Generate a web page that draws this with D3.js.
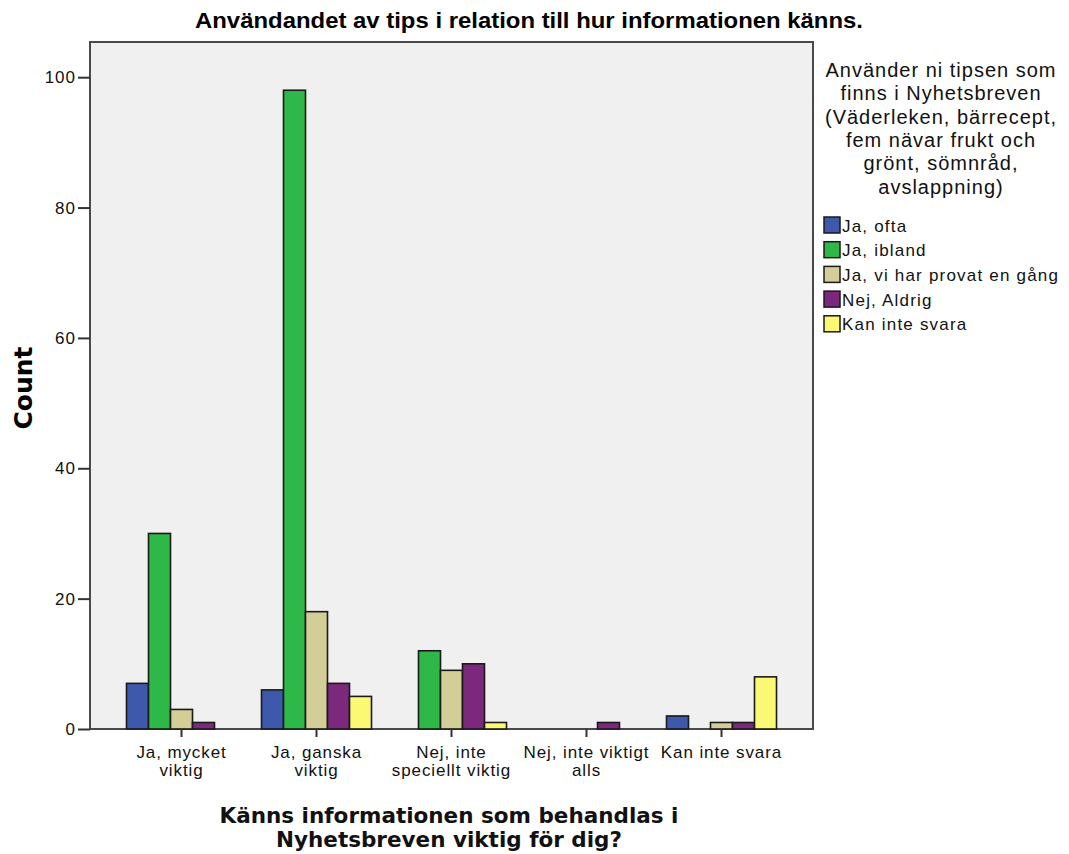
<!DOCTYPE html>
<html>
<head>
<meta charset="utf-8">
<script src="https://cdn.jsdelivr.net/npm/d3@7"></script>
<style>
  body { margin: 0; background: #fff; }
  svg { display: block; font-family: "Liberation Sans", Arial, sans-serif; }
</style>
</head>
<body>
<div id="chart_div"></div>
<script>
// categories on the x axis (each entry = lines of the label)
var categories = ["Ja, mycket viktig", "Ja, ganska viktig", "Nej, inte speciellt viktig", "Nej, inte viktigt alls", "Kan inte svara"];
var categoryLines = [["Ja, mycket", "viktig"], ["Ja, ganska", "viktig"], ["Nej, inte", "speciellt viktig"], ["Nej, inte viktigt", "alls"], ["Kan inte svara"]];

// legend series
var series = ["Ja, ofta", "Ja, ibland", "Ja, vi har provat en gång", "Nej, Aldrig", "Kan inte svara"];
var seriesColors = ["#3e58ac", "#2eb848", "#d3ce97", "#7c287d", "#fbf873"];

// counts per series, one per category
var jaOfta = [7, 6, 0, 0, 2];
var jaIbland = [30, 98, 12, 0, 0];
var provat = [3, 18, 9, 0, 1];
var aldrig = [1, 7, 10, 1, 1];
var kanInte = [0, 5, 1, 0, 8];

var yTicks = [0, 20, 40, 60, 80, 100];

var legendTitle = ["Använder ni tipsen som", "finns i Nyhetsbreven", "(Väderleken, bärrecept,", "fem nävar frukt och", "grönt, sömnråd,", "avslappning)"];

var values = [jaOfta, jaIbland, provat, aldrig, kanInte];

var width = 1069, height = 854;
var svg = d3.select("#chart_div").append("svg")
  .attr("width", width)
  .attr("height", height);

// plot frame
var plotLeft = 90, plotRight = 813, plotTop = 42, plotBottom = 729;

svg.append("rect")
  .attr("x", plotLeft).attr("y", plotTop)
  .attr("width", plotRight - plotLeft).attr("height", plotBottom - plotTop)
  .attr("fill", "#f0f0f0")
  .attr("stroke", "#4a4a4a")
  .attr("stroke-width", 2);

//scales
var x = d3.scaleBand().domain(categories).range([114, 789]).padding(0);
var xSub = d3.scaleBand().domain(series).range([0, x.bandwidth()]).paddingInner(0).paddingOuter(0.568);
var y = d3.scaleLinear().domain([0, 105.4]).range([plotBottom, plotTop]);

//bars (zero counts are not drawn)
var rows = [];
categories.forEach(function (c, i) {
  series.forEach(function (s, j) {
    if (values[j][i] > 0) rows.push({ cat: c, ser: s, v: values[j][i], color: seriesColors[j] });
  });
});

svg.append("g").selectAll("rect")
  .data(rows)
  .enter().append("rect")
  .attr("x", d => x(d.cat) + xSub(d.ser))
  .attr("y", d => y(d.v))
  .attr("width", xSub.bandwidth())
  .attr("height", d => plotBottom - y(d.v))
  .attr("fill", d => d.color)
  .attr("stroke", "#1a1a1a")
  .attr("stroke-width", 1.6);

//y axis
var yAxis = svg.append("g")
  .attr("transform", `translate(${plotLeft},0)`)
  .call(d3.axisLeft(y).tickValues(yTicks).tickSize(12).tickPadding(2));
yAxis.select(".domain").remove();
yAxis.selectAll("line").attr("stroke", "#333").attr("stroke-width", 2);
yAxis.selectAll("text").attr("font-size", 17).attr("fill", "#111")
  .attr("letter-spacing", 1)
  .attr("font-family", "'Liberation Sans', Arial, sans-serif");

//x axis
var xAxis = svg.append("g")
  .attr("transform", `translate(0,${plotBottom})`)
  .call(d3.axisBottom(x).tickSize(8).tickFormat(""));
xAxis.select(".domain").remove();
xAxis.selectAll("line").attr("stroke", "#333").attr("stroke-width", 2);

categories.forEach(function (c, i) {
  var t = svg.append("text")
    .attr("x", x(c) + x.bandwidth() / 2)
    .attr("y", 758)
    .attr("text-anchor", "middle")
    .attr("font-size", 17)
    .attr("letter-spacing", 0.9)
    .attr("fill", "#111");
  categoryLines[i].forEach(function (line, k) {
    t.append("tspan")
      .attr("x", x(c) + x.bandwidth() / 2)
      .attr("dy", k == 0 ? 0 : 17.5)
      .text(line);
  });
});

//title (narrow bold look: squeeze a bold sans into the measured width)
svg.append("text")
  .attr("x", 529).attr("y", 28)
  .attr("text-anchor", "middle")
  .attr("font-family", "'Liberation Sans Narrow', 'Arial Narrow', 'Liberation Sans', sans-serif")
  .attr("font-weight", "bold")
  .attr("font-size", 22)
  .attr("textLength", 668)
  .attr("lengthAdjust", "spacingAndGlyphs")
  .text("Användandet av tips i relation till hur informationen känns.");

//y axis title
svg.append("text")
  .attr("transform", "translate(32,388) rotate(-90)")
  .attr("text-anchor", "middle")
  .attr("font-family", "'DejaVu Sans', sans-serif")
  .attr("font-weight", "bold")
  .attr("font-size", 25)
  .text("Count");

//x axis title
var xt = svg.append("text")
  .attr("text-anchor", "middle")
  .attr("font-family", "'DejaVu Sans', sans-serif")
  .attr("font-weight", "bold")
  .attr("font-size", 21.5)
  .attr("fill", "#111");
["Känns informationen som behandlas i", "Nyhetsbreven viktig för dig?"].forEach(function (line, k) {
  xt.append("tspan")
    .attr("x", 449)
    .attr("y", 823 + k * 24)
    .text(line);
});

//legend
var lt = svg.append("text")
  .attr("text-anchor", "middle")
  .attr("font-size", 20)
  .attr("letter-spacing", 1)
  .attr("fill", "#111");
legendTitle.forEach(function (line, k) {
  lt.append("tspan")
    .attr("x", 941)
    .attr("y", 77 + k * 23.3)
    .text(line);
});

var legend = svg.append("g").selectAll("g")
  .data(series)
  .enter().append("g")
  .attr("transform", (d, i) => `translate(824,${217 + i * 24.7})`);

legend.append("rect")
  .attr("width", 16).attr("height", 16)
  .attr("fill", (d, i) => seriesColors[i])
  .attr("stroke", "#1a1a1a")
  .attr("stroke-width", 1.5);

legend.append("text")
  .attr("x", 18).attr("y", 14.5)
  .attr("font-size", 17)
  .attr("letter-spacing", 1.2)
  .attr("fill", "#111")
  .text(d => d);
</script>
</body>
</html>
